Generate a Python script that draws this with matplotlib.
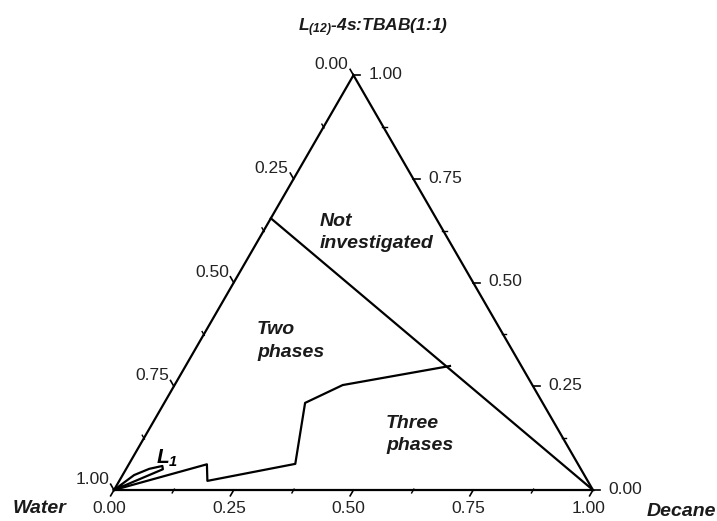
"""
Ternary phase diagram: water / decane / L(12)-4s:TBAB(1:1)
"""

import numpy
import matplotlib
matplotlib.use("Agg")
import matplotlib.pyplot as plt

plt.rcParams['font.family'] = ['Liberation Sans', 'DejaVu Sans']
plt.rcParams['mathtext.fontset'] = 'custom'
plt.rcParams['mathtext.rm'] = 'Liberation Sans:italic:bold'
plt.rcParams['mathtext.it'] = 'Liberation Sans:italic:bold'
plt.rcParams['mathtext.bf'] = 'Liberation Sans:italic:bold'

# compositions given as (decane, surfactant) mass fractions, water is the rest
boundary_decane = [0.0, 0.163, 0.184, 0.347, 0.294, 0.351, 0.552]
boundary_surf = [0.0, 0.062, 0.022, 0.063, 0.210, 0.253, 0.299]

lens_decane = [0.0, 0.024, 0.048, 0.072, 0.077, 0.0]
lens_surf = [0.0, 0.036, 0.051, 0.058, 0.050, 0.0]

limit_decane = [0.0, 1.0]
limit_surf = [0.655, 0.0]

major_ticks = [0.0, 0.25, 0.50, 0.75, 1.0]
minor_ticks = [0.125, 0.375, 0.625, 0.875]

SQ3 = numpy.sqrt(3) / 2.0


def to_xy(decane, surf):
    decane = numpy.asarray(decane, dtype=float)
    surf = numpy.asarray(surf, dtype=float)
    return decane + surf / 2.0, surf * SQ3


fig = plt.figure(figsize=(7.17, 5.21), dpi=100)
ax = fig.add_axes([0, 0, 1, 1])
ax.set_xlim(-0.238, 1.259)
ax.set_ylim(-0.0647, 1.023)
ax.axis('off')

lw = 1.6
# triangle frame
fx, fy = to_xy([0, 1, 0, 0], [0, 0, 1, 0])
ax.plot(fx, fy, color='black', lw=lw, solid_joinstyle='miter')

# axis definitions: point on edge, tick direction, label offset (points), alignment
axes_def = {
    'bottom': (lambda v: to_xy(v, 0.0), (-0.5, -SQ3), (-3.5, -13), 'center', 'center'),
    'right': (lambda v: to_xy(1.0 - v, v), (1.0, 0.0), (11, 0.5), 'left', 'center'),
    'left': (lambda v: to_xy(0.0, 1.0 - v), (-0.5, SQ3), (-3.5, 7.5), 'right', 'center'),
}
major_len = 0.014
minor_len = 0.007
for name, (edge, tdir, off, ha, va) in axes_def.items():
    for v in major_ticks:
        px, py = edge(v)
        ax.plot([px, px + tdir[0] * major_len], [py, py + tdir[1] * major_len],
                 color='black', lw=1.2)
        ax.annotate('{0:.2f}'.format(v), (px, py), xytext=off, textcoords='offset points',
                    ha=ha, va=va, fontsize=12.5, color='#222222')
    for v in minor_ticks:
        px, py = edge(v)
        ax.plot([px - tdir[0] * minor_len * 0.3, px + tdir[0] * minor_len],
                [py - tdir[1] * minor_len * 0.3, py + tdir[1] * minor_len],
                color='black', lw=1.0)

# phase boundaries
lx, ly = to_xy(limit_decane, limit_surf)
ax.plot(lx, ly, color='black', lw=lw)
bx, by = to_xy(boundary_decane, boundary_surf)
ax.plot(bx, by, color='black', lw=lw)
cx, cy = to_xy(lens_decane, lens_surf)
ax.plot(cx, cy, color='black', lw=lw)

# region labels
lab = dict(fontsize=14, fontweight='bold', fontstyle='italic', color='#1a1a1a',
           ha='left', va='center', linespacing=1.45)
ax.text(0.430, 0.5376, 'Not\ninvestigated', **lab)
ax.text(0.2985, 0.311, 'Two\nphases', **lab)
ax.text(0.568, 0.116, 'Three\nphases', **lab)
ax.text(0.088, 0.066, r'$L_1$', fontsize=15, ha='left', va='center')

# vertex labels
vert = dict(fontsize=14, fontweight='bold', fontstyle='italic', color='#1a1a1a', va='center')
ax.text(-0.1555, -0.0376, 'Water', ha='center', **vert)
ax.text(1.1127, -0.0459, 'Decane', ha='left', **vert)
fig.text(0.520, 0.946, r'$L_{(12)}$-4s:TBAB(1:1)', fontsize=12.5, fontweight='bold',
         fontstyle='italic', color='#1a1a1a', ha='center', va='center')

fig.savefig('out.png', dpi=100)
